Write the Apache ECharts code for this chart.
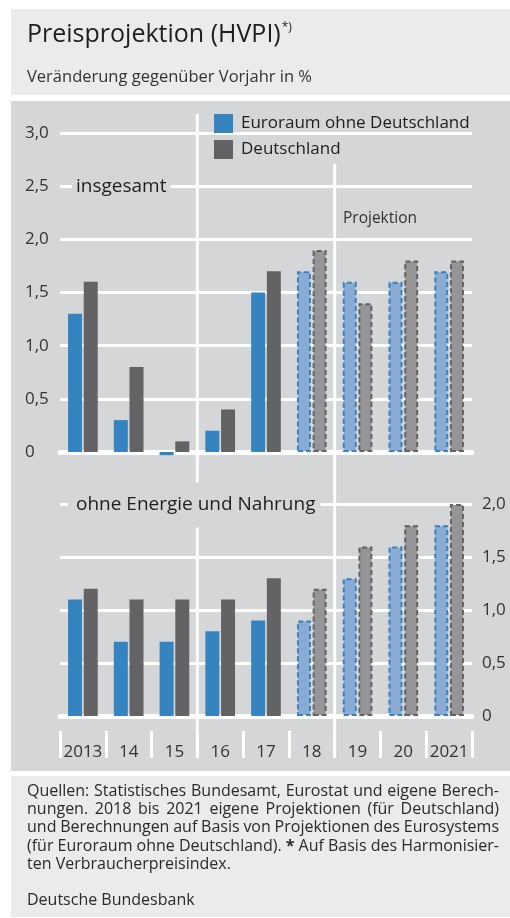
<!DOCTYPE html>
<html>
<head>
<meta charset="utf-8">
<script src="https://cdn.jsdelivr.net/npm/echarts@6/dist/echarts.min.js"></script>
<style>
  html, body { margin: 0; padding: 0; background: #fff; }
  #chart { width: 510px; height: 918px; }
</style>
</head>
<body>
<div id="chart"></div>
<script>
// Daten
const years = ['2013', '14', '15', '16', '17', '18', '19', '20', '2021'];
const firstProjection = 5; // ab 2018 gestrichelt (Projektion)
const euroTotal = [1.3, 0.3, -0.03, 0.2, 1.5, 1.7, 1.6, 1.6, 1.7];
const deTotal   = [1.6, 0.8, 0.1, 0.4, 1.7, 1.9, 1.4, 1.8, 1.8];
const euroCore  = [1.1, 0.7, 0.7, 0.8, 0.9, 0.9, 1.3, 1.6, 1.8];
const deCore    = [1.2, 1.1, 1.1, 1.1, 1.3, 1.2, 1.6, 1.8, 2.0];
const sourceLines = [
  'Quellen: Statistisches Bundesamt, Eurostat und eigene Berech-',
  'nungen. 2018 bis 2021 eigene Projektionen (für Deutschland)',
  'und Berechnungen auf Basis von Projektionen des Eurosystems',
  '(für Euroraum ohne Deutschland). * Auf Basis des Harmonisier-',
  'ten Verbraucherpreisindex.'
];

const font = 'Open Sans';
const blue = '#3584bf', blueLight = '#8aabd3';
const grey = '#636366', greyLight = '#959598';
const panel = '#d5d6d8', panelLight = '#ebebed';
const textCol = '#1e1e1e';

const chart = echarts.init(document.getElementById('chart'));

const ctx = document.createElement('canvas').getContext('2d');
const textWidth = (s, size, weight) => {
  ctx.font = (weight || 'normal') + ' ' + size + 'px "' + font + '"';
  return ctx.measureText(s).width;
};

// Projektionen: heller mit gestricheltem Rand
const bars = (values, dark, light) => values.map((v, i) => i < firstProjection ? v : {
  value: v,
  itemStyle: { color: light, borderColor: dark, borderWidth: 2, borderType: [5, 3] }
});

const fmt = v => v === 0 ? '0' : v.toFixed(1).replace('.', ',');

const barSeries = (name, values, dark, light, x, y) => ({
  type: 'bar', name: name,
  xAxisIndex: x, yAxisIndex: y,
  data: bars(values, dark, light),
  barWidth: 14, barGap: '12%',
  clip: false,
  itemStyle: { color: dark },
  emphasis: { disabled: true }
});

// Quellenangabe im Blocksatz, Schrift so groß wie es die Zeilen zulassen
const footRight = 499;
const wordsOf = line => line.split(' ');
const weightOf = w => w === '*' ? 'bold' : 'normal';
let footSize = 16;
while (footSize > 13 && sourceLines.slice(0, -1).some(line => {
  const ws = wordsOf(line);
  const sum = ws.reduce((a, w) => a + textWidth(w, footSize, weightOf(w)), 0);
  return sum + (ws.length - 1) * 3.5 > footRight - 27;
})) footSize -= 0.25;

const footEls = [];
sourceLines.forEach((line, li) => {
  const y = 791 + li * 18.4;
  const words = wordsOf(line);
  const widths = words.map(w => textWidth(w, footSize, weightOf(w)));
  const total = widths.reduce((a, b) => a + b, 0);
  const justify = li < sourceLines.length - 1;
  const gap = justify ? (footRight - 27 - total) / (words.length - 1) : textWidth(' ', footSize);
  let x = 27;
  words.forEach((w, wi) => {
    footEls.push({
      type: 'text', z: 50, x: x, y: y,
      style: { text: w, fill: '#2a2a2a', fontFamily: font, fontSize: footSize,
        fontWeight: weightOf(w), verticalAlign: 'middle' }
    });
    x += widths[wi] + gap;
  });
});

const titleText = 'Preisprojektion (HVPI)';
const titleSize = 25;

const option = {
  animation: false,
  textStyle: { fontFamily: font },
  legend: {
    data: ['Euroraum ohne Deutschland', 'Deutschland'],
    orient: 'vertical', left: 214, top: 114, padding: 0,
    itemWidth: 19, itemHeight: 19, itemGap: 7, icon: 'rect',
    selectedMode: false,
    textStyle: { fontSize: 17, color: textCol, padding: [0, 0, 0, 3] }
  },
  grid: [
    { left: 60, top: 133, width: 412, height: 319 },
    { left: 60, top: 504, width: 412, height: 212 }
  ],
  xAxis: [
    { type: 'category', gridIndex: 0, data: years,
      axisLine: { lineStyle: { color: '#fff', width: 5 } },
      axisTick: { show: false }, axisLabel: { show: false } },
    { type: 'category', gridIndex: 1, data: years,
      axisLine: { lineStyle: { color: '#fff', width: 5 } },
      axisTick: { show: false }, axisLabel: { show: false } },
    { type: 'category', gridIndex: 1, data: years, position: 'bottom', offset: 15,
      axisLine: { show: false },
      axisTick: { show: true, interval: 0, length: 27, lineStyle: { color: '#fff', width: 3 } },
      axisLabel: { interval: 0, fontSize: 17, color: '#333', margin: 21, verticalAlign: 'middle' } }
  ],
  yAxis: [
    { type: 'value', gridIndex: 0, min: 0, max: 3, interval: 0.5,
      axisLine: { show: false }, axisTick: { show: false },
      splitLine: { lineStyle: { color: '#fff', width: 3 } },
      axisLabel: { formatter: fmt, align: 'left', margin: 35, fontSize: 17, color: '#333' } },
    { type: 'value', gridIndex: 1, position: 'right', min: 0, max: 2, interval: 0.5,
      axisLine: { show: false }, axisTick: { show: false },
      splitLine: { lineStyle: { color: '#fff', width: 3 } },
      axisLabel: { formatter: fmt, align: 'left', margin: 10, fontSize: 17, color: '#333' } }
  ],
  series: [
    barSeries('Euroraum ohne Deutschland', euroTotal, blue, blueLight, 0, 0),
    barSeries('Deutschland', deTotal, grey, greyLight, 0, 0),
    barSeries('Euroraum ohne Deutschland', euroCore, blue, blueLight, 1, 1),
    barSeries('Deutschland', deCore, grey, greyLight, 1, 1)
  ],
  graphic: {
    elements: [
      { type: 'rect', id: 'bgHead', z: -10, shape: { x: 11, y: 9, width: 499, height: 86 }, style: { fill: panelLight } },
      { type: 'rect', id: 'bgChart', z: -10, shape: { x: 11, y: 101, width: 499, height: 670 }, style: { fill: panel } },
      { type: 'rect', id: 'bgFoot', z: -10, shape: { x: 11, y: 776, width: 499, height: 141 }, style: { fill: panelLight } },
      { type: 'text', id: 'title', z: 50, x: 27, y: 35,
        style: { text: titleText, fill: textCol, fontFamily: font, fontSize: titleSize, verticalAlign: 'middle' } },
      { type: 'text', id: 'titleSup', z: 50, x: 27 + textWidth(titleText, titleSize) + 1, y: 28,
        style: { text: '*)', fill: textCol, fontFamily: font, fontSize: 12, verticalAlign: 'middle' } },
      { type: 'text', id: 'subtitle', z: 50, x: 27, y: 77,
        style: { text: 'Veränderung gegenüber Vorjahr in %', fill: '#333', fontFamily: font, fontSize: 16.5, verticalAlign: 'middle' } },
      { type: 'text', id: 'lblTotal', z: 50, x: 72, y: 187,
        style: { text: 'insgesamt', fill: textCol, fontFamily: font, fontSize: 19, verticalAlign: 'middle',
          backgroundColor: panel, padding: [4, 4] } },
      { type: 'text', id: 'lblCore', z: 50, x: 68, y: 505,
        style: { text: 'ohne Energie und Nahrung', fill: textCol, fontFamily: font, fontSize: 19, verticalAlign: 'middle',
          backgroundColor: panel, padding: [13, 5, 13, 8] } },
      { type: 'text', id: 'lblProj', z: 50, x: 343, y: 219,
        style: { text: 'Projektion', fill: '#333', fontFamily: font, fontSize: 15.5, verticalAlign: 'middle' } },
      { type: 'text', id: 'lblBank', z: 50, x: 27, y: 900,
        style: { text: 'Deutsche Bundesbank', fill: '#2a2a2a', fontFamily: font, fontSize: footSize, verticalAlign: 'middle' } }
    ].concat(footEls)
  }
};

chart.setOption(option);

// Trennlinien zwischen den Jahresgruppen über beide Diagramme
const xAt = i => chart.convertToPixel({ xAxisIndex: 0 }, years[i]);
const sepA = (xAt(2) + xAt(3)) / 2;
const sepB = (xAt(firstProjection) + xAt(firstProjection + 1)) / 2;
chart.setOption({
  graphic: {
    elements: [
      { type: 'line', id: 'sepA', z: 1, shape: { x1: sepA, y1: 114, x2: sepA, y2: 758 }, style: { stroke: '#fff', lineWidth: 3 } },
      { type: 'line', id: 'sepB', z: 1, shape: { x1: sepB, y1: 164, x2: sepB, y2: 758 }, style: { stroke: '#fff', lineWidth: 3 } }
    ]
  }
});
</script>
</body>
</html>
